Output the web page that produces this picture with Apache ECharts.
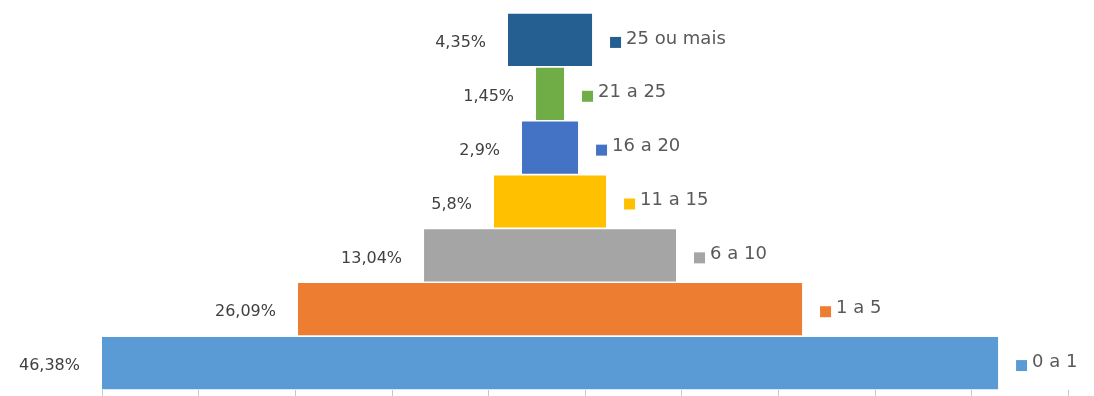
<!DOCTYPE html>
<html>
<head>
<meta charset="utf-8">
<script src="https://cdn.jsdelivr.net/npm/echarts@6/dist/echarts.min.js"></script>
<style>
  html, body { margin: 0; padding: 0; background: #ffffff; }
  #chart { width: 1094px; height: 396px; }
</style>
</head>
<body>
<div id="chart"></div>
<script>
// Faixas de tempo (de baixo para cima) e a parcela de cada uma, em %
const categories = ['0 a 1', '1 a 5', '6 a 10', '11 a 15', '16 a 20', '21 a 25', '25 ou mais'];
const shares = [46.38, 26.09, 13.04, 5.8, 2.9, 1.45, 4.35];
const barColors = ['#5B9BD5', '#ED7D31', '#A5A5A5', '#FFC000', '#4472C4', '#70AD47', '#255E91'];
const axisTicks = { min: 0, max: 50, step: 5 };

// Each bar is centred on the widest one: an invisible spacer pushes it right.
const widest = Math.max(...shares);
const spacer = shares.map(v => (widest - v) / 2);
const fmtPct = v => String(v).replace('.', ',') + '%';

const chart = echarts.init(document.getElementById('chart'), null, { renderer: 'canvas' });

chart.setOption({
  backgroundColor: '#ffffff',
  animation: false,
  grid: { left: 102, right: 26, top: 13, bottom: 6, containLabel: false },
  xAxis: {
    type: 'value',
    min: axisTicks.min,
    max: axisTicks.max,
    interval: axisTicks.step,
    axisLine: { show: false },
    axisTick: { show: true, inside: false, length: 6, lineStyle: { color: '#c8c8c8' } },
    axisLabel: { show: false },
    splitLine: { show: false }
  },
  yAxis: {
    type: 'category',
    data: categories,
    axisLine: { show: false },
    axisTick: { show: false },
    axisLabel: { show: false },
    splitLine: { show: false }
  },
  series: [
    {
      name: 'spacer',
      type: 'bar',
      stack: 'pyramid',
      data: spacer,
      itemStyle: { color: 'rgba(0,0,0,0)' },
      emphasis: { disabled: true },
      barCategoryGap: '3%',
      silent: true
    },
    {
      name: 'share',
      type: 'bar',
      stack: 'pyramid',
      barCategoryGap: '3%',
      data: shares.map((v, i) => ({ value: v, itemStyle: { color: barColors[i] } })),
      label: {
        show: true,
        position: 'left',
        distance: 22,
        offset: [0, 3],
        color: '#404040',
        fontFamily: 'DejaVu Sans',
        fontSize: 16,
        formatter: p => fmtPct(p.value)
      }
    },
    {
      name: 'keys',
      type: 'scatter',
      symbolSize: 0,
      z: 5,
      itemStyle: { opacity: 1 },
      data: shares.map((v, i) => ({
        value: [spacer[i] + v, i],
        label: {
          show: true,
          position: 'right',
          distance: 18,
          offset: [0, -1],
          opacity: 1,
          formatter: '{sq|}{t|' + categories[i] + '}',
          rich: {
            sq: { width: 11, height: 11, backgroundColor: barColors[i], verticalAlign: 'bottom' },
            t: { color: '#595959', fontFamily: 'DejaVu Sans', fontSize: 18, padding: [0, 0, 0, 5] }
          }
        }
      }))
    }
  ]
});
</script>
</body>
</html>
